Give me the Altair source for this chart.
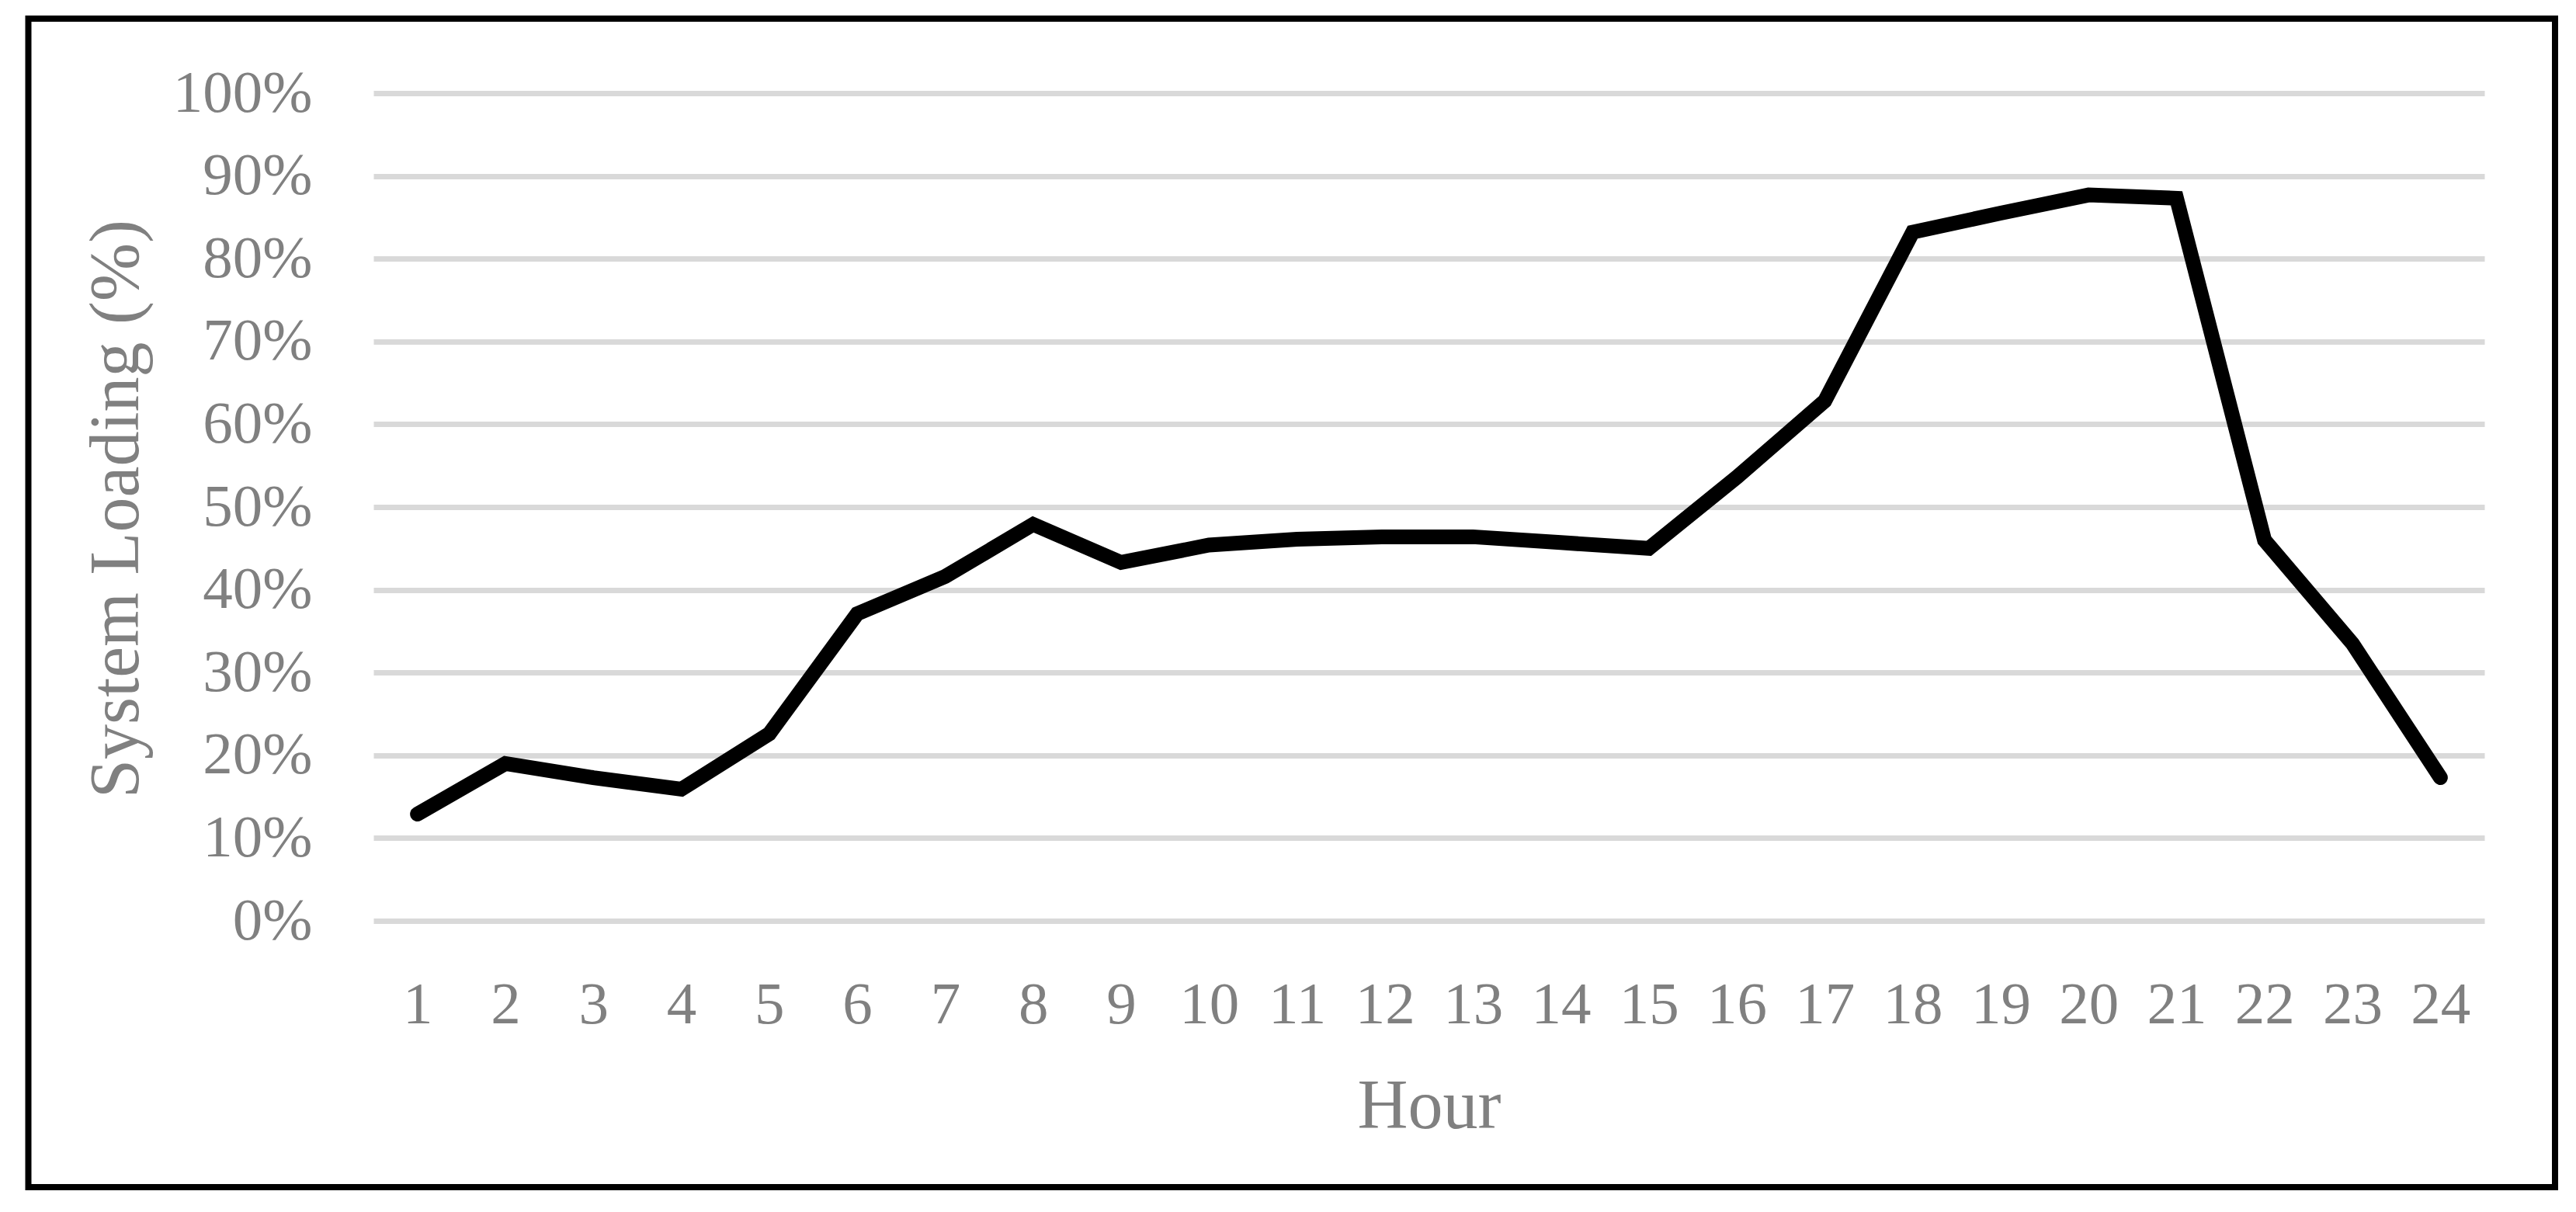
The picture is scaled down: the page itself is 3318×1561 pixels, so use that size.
import altair as alt
import pandas as pd

hours = list(range(1, 25))
loading = [0.129, 0.190, 0.173, 0.159, 0.226, 0.371, 0.416, 0.479, 0.433, 0.454,
           0.461, 0.464, 0.464, 0.457, 0.450, 0.536, 0.628, 0.832, 0.855, 0.877,
           0.873, 0.460, 0.335, 0.173]
y_ticks = [0, 0.1, 0.2, 0.3, 0.4, 0.5, 0.6, 0.7, 0.8, 0.9, 1.0]

df = pd.DataFrame({"Hour": hours, "Loading": loading})

FONT = "Liberation Serif"
GRAY = "#808080"
W, H = 2719, 1066

line = alt.Chart(df).mark_line(
    color="black", strokeWidth=19, strokeCap="round"
).encode(
    x=alt.X("Hour:O", scale=alt.Scale(type="point", padding=0.5),
            axis=alt.Axis(title="Hour", labelAngle=0, labelFont=FONT, labelFontSize=77,
                          labelColor=GRAY, labelPadding=70, domain=False, ticks=False,
                          grid=False, titleFont=FONT, titleFontSize=90, titleColor=GRAY,
                          titleFontWeight="normal", titleY=266, titleBaseline="alphabetic")),
    y=alt.Y("Loading:Q", scale=alt.Scale(domain=[0, 1]),
            axis=alt.Axis(title="System Loading (%)", values=y_ticks, format=".0%",
                          labelFont=FONT, labelFontSize=77, labelColor=GRAY,
                          labelPadding=79, domain=False, ticks=False, grid=True,
                          gridColor="#d9d9d9", gridWidth=7, titleFont=FONT,
                          titleFontSize=90, titleColor=GRAY, titleFontWeight="normal",
                          titleAngle=270, titleX=-304, titleY=535, titleAlign="center",
                          titleBaseline="alphabetic")),
)

frame = alt.Chart(alt.Data(values=[{}])).mark_rect(
    fill=None, stroke="black", strokeWidth=8
).encode(
    x=alt.value(-444.5), x2=alt.value(2810), y=alt.value(-96), y2=alt.value(1409)
)

chart = alt.layer(line, frame).properties(
    width=W, height=H,
    autosize=alt.AutoSizeParams(type="none"),
    padding={"left": 473, "top": 112, "right": 100, "bottom": 355},
    view=alt.ViewBackground(stroke=None, strokeWidth=0),
).configure_view(stroke=None, strokeWidth=0).configure_axis(
    domain=False, ticks=False
).configure(background="white")

chart.save("out.html", embed_options={"renderer": "svg", "actions": False})
